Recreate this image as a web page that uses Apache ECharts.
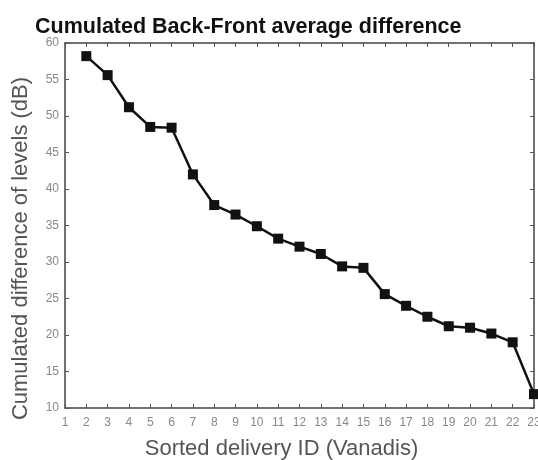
<!DOCTYPE html>
<html>
<head>
<meta charset="utf-8">
<script src="https://cdn.jsdelivr.net/npm/echarts@6/dist/echarts.min.js"></script>
<style>
html, body { margin: 0; padding: 0; background: #fff; }
#chart { width: 538px; height: 460px; }
</style>
</head>
<body>
<div id="chart"></div>
<script>
// sorted delivery IDs and cumulated differences (dB)
var deliveryIds = [2, 3, 4, 5, 6, 7, 8, 9, 10, 11, 12, 13, 14, 15, 16, 17, 18, 19, 20, 21, 22, 23];
var cumulatedDiff = [58.2, 55.6, 51.2, 48.5, 48.4, 42.0, 37.8, 36.5, 34.9, 33.2, 32.1, 31.1,
    29.4, 29.2, 25.6, 24.0, 22.5, 21.2, 21.0, 20.2, 19.0, 11.9];

var points = deliveryIds.map(function (id, i) {
    return [id, cumulatedDiff[i]];
});

var chart = echarts.init(document.getElementById('chart'));

var tickStyle = {show: true, inside: true, length: 4, lineStyle: {color: '#555', width: 1}};
var lineStyle = {show: true, lineStyle: {color: '#444', width: 1.5}};

option = {
    animation: false,
    title: {
        text: 'Cumulated Back-Front average difference',
        left: 30,
        top: 11,
        textStyle: {
            fontFamily: 'Liberation Sans',
            fontSize: 21.5,
            fontWeight: 'bold',
            color: '#111'
        }
    },
    grid: {
        left: 65,
        right: 4,
        top: 43,
        bottom: 52,
        outerBoundsMode: 'none'
    },
    xAxis: [{
        type: 'value',
        min: 1,
        max: 23,
        interval: 1,
        name: 'Sorted delivery ID (Vanadis)',
        nameLocation: 'middle',
        nameGap: 30,
        nameTextStyle: {fontFamily: 'Liberation Sans', fontSize: 22, color: '#555', padding: [0, 36, 0, 0]},
        axisLine: lineStyle,
        axisTick: tickStyle,
        splitLine: {show: false},
        axisLabel: {fontFamily: 'Liberation Sans', fontSize: 12, color: '#888', margin: 9}
    }, {
        type: 'value',
        position: 'top',
        min: 1,
        max: 23,
        interval: 1,
        axisLine: lineStyle,
        axisTick: tickStyle,
        splitLine: {show: false},
        axisLabel: {show: false}
    }],
    yAxis: [{
        type: 'value',
        min: 10,
        max: 60,
        interval: 5,
        name: 'Cumulated difference of levels (dB)',
        nameLocation: 'middle',
        nameGap: 33,
        nameTextStyle: {fontFamily: 'Liberation Sans', fontSize: 22, color: '#555', padding: [0, 46, 0, 0]},
        axisLine: lineStyle,
        axisTick: tickStyle,
        splitLine: {show: false},
        axisLabel: {fontFamily: 'Liberation Sans', fontSize: 12, color: '#888', margin: 6}
    }, {
        type: 'value',
        position: 'right',
        min: 10,
        max: 60,
        interval: 5,
        axisLine: lineStyle,
        axisTick: tickStyle,
        splitLine: {show: false},
        axisLabel: {show: false}
    }],
    series: [{
        type: 'line',
        data: points,
        symbol: 'rect',
        symbolSize: 10,
        lineStyle: {color: '#111', width: 2.5},
        itemStyle: {color: '#111'},
        clip: false
    }]
};
chart.setOption(option, true);
</script>
</body>
</html>
